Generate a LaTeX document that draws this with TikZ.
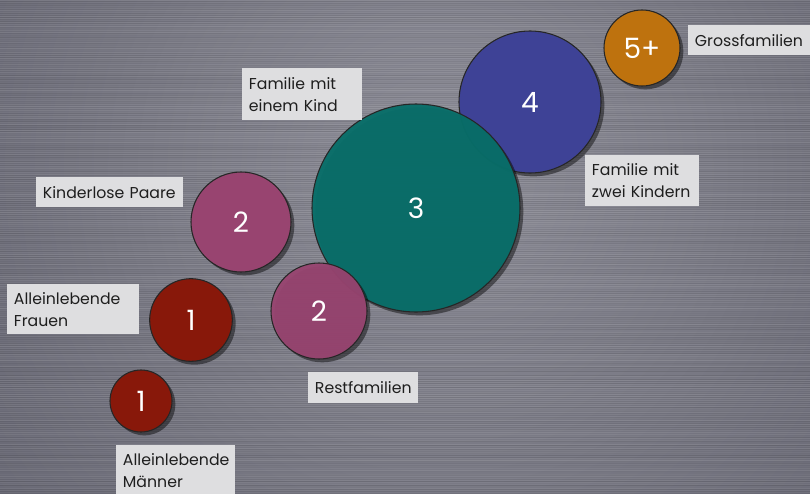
\documentclass[tikz,border=0pt]{standalone}
\usepackage{fontspec}
\setmainfont{Poppins}
\usetikzlibrary{shadows}
\definecolor{bgbase}{RGB}{108,108,118}
\definecolor{bgin}{RGB}{142,142,152}
\definecolor{bgout}{RGB}{100,100,112}
\definecolor{boxgray}{RGB}{222,222,224}
\definecolor{cred}{RGB}{136,24,10}
\definecolor{cmag}{RGB}{152,68,112}
\definecolor{cteal}{RGB}{8,110,105}
\definecolor{cblue}{RGB}{62,66,150}
\definecolor{corange}{RGB}{190,114,14}
\definecolor{txt}{RGB}{30,30,30}
\tikzset{
  bubble/.style={circle, draw=black!85, line width=0.8pt, inner sep=0pt, text=white,
    font=\fontsize{21}{24}\selectfont,
    drop shadow={shadow xshift=2.5pt, shadow yshift=-2.5pt, opacity=0.45, fill=black}},
  lbl/.style={fill=boxgray, text=txt, font=\fontsize{11.8}{16.5}\selectfont,
    inner xsep=5pt, inner ysep=2pt, align=left, anchor=north west}
}
\begin{document}
\begin{tikzpicture}[x=0.75pt, y=-0.75pt]
\useasboundingbox (0,0) rectangle (810,493);
% background
\begin{scope}
\clip (0,0) rectangle (810,493);
\fill[bgbase] (0,0) rectangle (810,493);
\shade[inner color=bgin, outer color=bgout] (440,170) circle (620);
\pgfmathsetseed{11}
\foreach \yy in {0,2,...,492}{
  \pgfmathsetmacro\oa{rnd*0.10}
  \pgfmathsetmacro\ob{rnd*0.10}
  \draw[white, opacity=\oa, line width=0.6pt] (0,\yy) -- (810,\yy);
  \draw[black, opacity=\ob, line width=0.6pt] (0,\yy+1) -- (810,\yy+1);
}
\end{scope}
% bubbles
\node[bubble, fill=cred, minimum size=46.5pt] (m1) at (141,401) {1};
\node[bubble, fill=cred, minimum size=62pt] (f1) at (191,320) {1};
\node[bubble, fill=cmag, minimum size=75pt] (k2) at (241,222) {2};
\node[bubble, fill=cblue, minimum size=106.5pt] (b4) at (530,102) {4};
\node[bubble, fill=cteal, fill opacity=0.96, text opacity=1, minimum size=156pt] (t3) at (416,208) {3};
\node[bubble, fill=cmag, fill opacity=0.95, text opacity=1, minimum size=72pt] (r2) at (319,311) {2};
\node[bubble, fill=corange, minimum size=57pt] (o5) at (642,48) {5+};
% labels
\node[lbl, text width=80pt, minimum height=39pt] (lfam1) at (242,68) {Familie mit\\einem Kind};
\node[lbl, text width=100pt, minimum height=22.5pt] (lkp) at (36,177) {Kinderlose Paare};
\node[lbl, text width=89pt, minimum height=37.5pt] (laf) at (7,284) {Alleinlebende\\Frauen};
\node[lbl, text width=79pt, minimum height=37.5pt] (lam) at (116,445) {Alleinlebende\\Männer};
\node[lbl, text width=72pt, minimum height=23pt] (lrf) at (308,372) {Restfamilien};
\node[lbl, text width=75pt, minimum height=38pt] (lfz) at (585,155) {Familie mit\\zwei Kindern};
\node[lbl, text width=90pt, minimum height=22.5pt] (lgf) at (688,25) {Grossfamilien};
\end{tikzpicture}
\end{document}
